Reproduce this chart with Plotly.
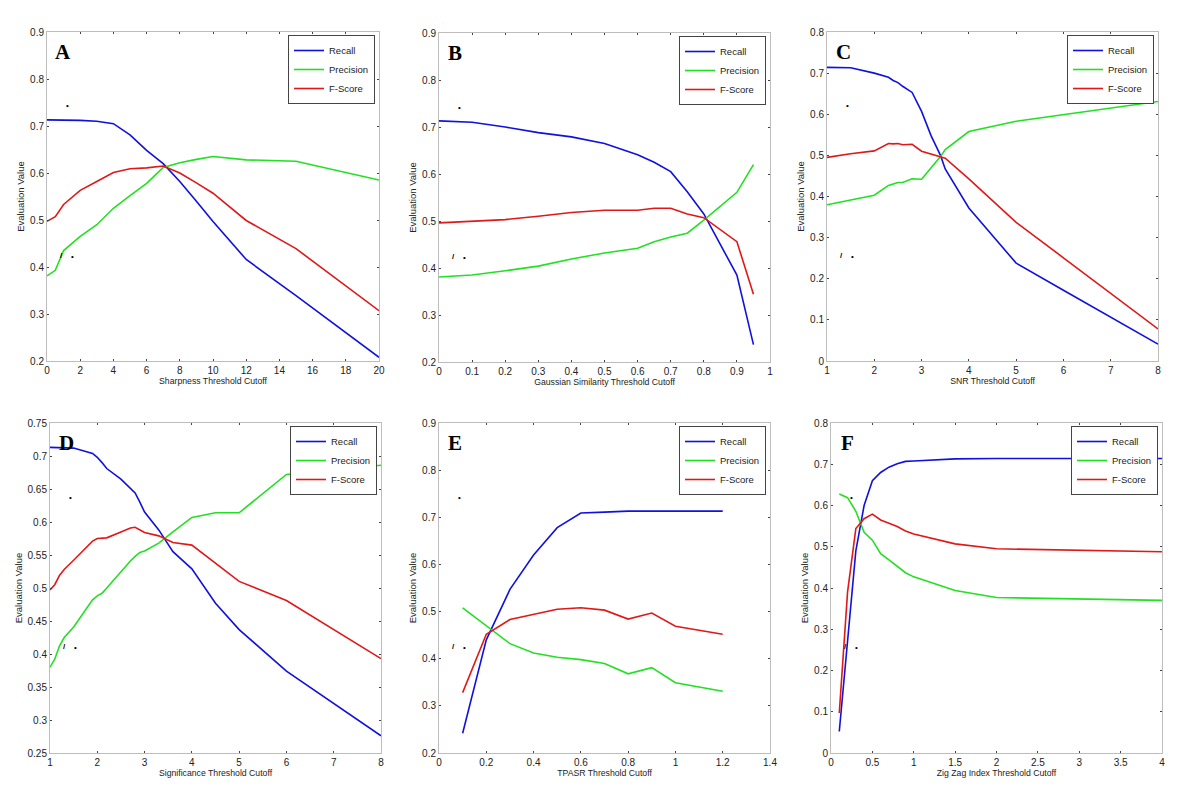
import plotly.graph_objects as go

# ---------------- data ----------------
A_x = [0, 0.5, 1, 2, 3, 4, 5, 6, 7, 8, 9, 10, 12, 15, 20]
A_recall = [0.713, 0.713, 0.713, 0.712, 0.710, 0.705, 0.681, 0.648, 0.620, 0.582, 0.540, 0.497, 0.416, 0.339, 0.208]
A_precision = [0.381, 0.393, 0.435, 0.465, 0.490, 0.525, 0.552, 0.578, 0.612, 0.622, 0.629, 0.635, 0.628, 0.625, 0.585]
A_fscore = [0.497, 0.507, 0.533, 0.563, 0.582, 0.601, 0.609, 0.611, 0.615, 0.600, 0.579, 0.557, 0.499, 0.439, 0.307]

B_x = [0, 0.1, 0.2, 0.3, 0.4, 0.5, 0.6, 0.65, 0.7, 0.75, 0.8, 0.9, 0.95]
B_recall = [0.713, 0.710, 0.700, 0.688, 0.679, 0.665, 0.641, 0.625, 0.605, 0.562, 0.515, 0.385, 0.237]
B_precision = [0.381, 0.385, 0.394, 0.404, 0.419, 0.432, 0.442, 0.456, 0.466, 0.474, 0.502, 0.561, 0.620]
B_fscore = [0.496, 0.499, 0.503, 0.510, 0.518, 0.523, 0.523, 0.527, 0.527, 0.515, 0.507, 0.456, 0.344]

C_x = [1, 1.5, 2, 2.3, 2.4, 2.5, 2.6, 2.8, 3, 3.2, 3.4, 3.5, 4, 5, 6, 7, 8]
C_recall = [0.714, 0.713, 0.700, 0.690, 0.682, 0.677, 0.668, 0.653, 0.607, 0.548, 0.500, 0.467, 0.372, 0.238, 0.172, 0.106, 0.041]
C_precision = [0.380, 0.391, 0.403, 0.427, 0.431, 0.434, 0.434, 0.443, 0.442, 0.470, 0.497, 0.514, 0.558, 0.583, 0.599, 0.615, 0.631]
C_fscore = [0.495, 0.504, 0.511, 0.529, 0.528, 0.529, 0.526, 0.527, 0.510, 0.503, 0.496, 0.493, 0.443, 0.337, 0.251, 0.165, 0.078]

D_x = [1, 1.1, 1.2, 1.3, 1.5, 1.9, 2, 2.1, 2.2, 2.5, 2.7, 2.8, 2.9, 3, 3.3, 3.6, 4, 4.5, 5, 6, 8]
D_recall = [0.713, 0.713, 0.713, 0.713, 0.712, 0.704, 0.698, 0.690, 0.681, 0.665, 0.652, 0.644, 0.630, 0.615, 0.588, 0.555, 0.529, 0.477, 0.437, 0.374, 0.276]
D_precision = [0.380, 0.392, 0.412, 0.425, 0.441, 0.482, 0.488, 0.492, 0.500, 0.525, 0.541, 0.548, 0.554, 0.556, 0.568, 0.585, 0.607, 0.614, 0.614, 0.672, 0.686]
D_fscore = [0.497, 0.505, 0.519, 0.528, 0.542, 0.571, 0.575, 0.575, 0.576, 0.585, 0.591, 0.592, 0.588, 0.584, 0.579, 0.569, 0.565, 0.538, 0.510, 0.481, 0.393]

E_x = [0.1, 0.2, 0.3, 0.4, 0.5, 0.6, 0.7, 0.8, 0.9, 1.0, 1.2]
E_recall = [0.242, 0.440, 0.547, 0.620, 0.678, 0.709, 0.711, 0.713, 0.713, 0.713, 0.713]
E_precision = [0.508, 0.470, 0.432, 0.412, 0.403, 0.398, 0.390, 0.368, 0.381, 0.349, 0.331]
E_fscore = [0.328, 0.452, 0.483, 0.494, 0.505, 0.508, 0.503, 0.484, 0.497, 0.469, 0.452]

F_x = [0.1, 0.2, 0.3, 0.4, 0.5, 0.6, 0.7, 0.8, 0.9, 1.0, 1.5, 2, 4]
F_recall = [0.052, 0.270, 0.490, 0.600, 0.660, 0.680, 0.693, 0.701, 0.707, 0.708, 0.713, 0.714, 0.714]
F_precision = [0.628, 0.619, 0.586, 0.535, 0.516, 0.483, 0.468, 0.453, 0.437, 0.427, 0.394, 0.377, 0.370]
F_fscore = [0.097, 0.390, 0.544, 0.568, 0.579, 0.565, 0.557, 0.549, 0.538, 0.531, 0.507, 0.495, 0.488]

series_names = ["Recall", "Precision", "F-Score"]
panel_letters = ["A", "B", "C", "D", "E", "F"]
x_titles = ["Sharpness Threshold Cutoff", "Gaussian Similarity Threshold Cutoff", "SNR Threshold Cutoff",
            "Significance Threshold Cutoff", "TPASR Threshold Cutoff", "Zig Zag Index Threshold Cutoff"]
y_title = "Evaluation Value"

panels_data = [
    (A_x, A_recall, A_precision, A_fscore),
    (B_x, B_recall, B_precision, B_fscore),
    (C_x, C_recall, C_precision, C_fscore),
    (D_x, D_recall, D_precision, D_fscore),
    (E_x, E_recall, E_precision, E_fscore),
    (F_x, F_recall, F_precision, F_fscore),
]

# ---------------- layout / style ----------------
W, H = 1200, 792
OFF = 8  # page body margin of the browser
colors = ["#1010e0", "#22e022", "#e01818"]
# target plot-area pixel boxes on screen (left, right, top, bottom)
boxes = [(47, 379, 32, 361), (439, 770, 33, 362), (827, 1158, 32, 361),
         (50, 381, 423, 753), (439, 770, 423, 753), (831, 1162, 423, 753)]
x_ranges = [(0, 20), (0, 1), (1, 8), (1, 8), (0, 1.4), (0, 4)]
x_dticks = [2, 0.1, 1, 1, 0.2, 0.5]
y_ranges = [(0.2, 0.9), (0.2, 0.9), (0, 0.8), (0.25, 0.75), (0.2, 0.9), (0, 0.8)]
y_dticks = [0.1, 0.1, 0.1, 0.05, 0.1, 0.1]


def px(v):
    return (v - OFF) / W


def py(v):
    return 1 - (v - OFF) / H


fig = go.Figure()
font_family = "Liberation Sans, Arial, Helvetica, sans-serif"
layout = dict(
    template="none",
    width=W, height=H, paper_bgcolor="white", plot_bgcolor="white",
    margin=dict(l=0, r=0, t=0, b=0, pad=0, autoexpand=False), showlegend=True,
    font=dict(family=font_family, color="#222", size=10),
)
annotations = []

for i, (data, box) in enumerate(zip(panels_data, boxes)):
    sfx = "" if i == 0 else str(i + 1)
    xs = data[0]
    legend_name = "legend" + sfx
    for name, ys, col in zip(series_names, data[1:], colors):
        fig.add_trace(go.Scatter(
            x=xs, y=ys, mode="lines", name=name,
            line=dict(color=col, width=1.6),
            xaxis="x" + sfx, yaxis="y" + sfx, legend=legend_name,
        ))
    l, r, t, b = box
    common = dict(showline=True, linecolor="#bdbdbd", linewidth=1, mirror="ticks",
                  ticks="inside", ticklen=2, tickwidth=1, tickcolor="#444",
                  showgrid=False, zeroline=False, automargin=False,
                  tickfont=dict(size=10, family=font_family, color="#222"))
    layout["xaxis" + sfx] = dict(
        domain=[px(l), px(r)], anchor="y" + sfx,
        range=list(x_ranges[i]), dtick=x_dticks[i], tick0=0,
        title=dict(text=x_titles[i], font=dict(size=8.7, family=font_family, color="#222"), standoff=2),
        **common)
    layout["yaxis" + sfx] = dict(
        domain=[py(b), py(t)], anchor="x" + sfx,
        range=list(y_ranges[i]), dtick=y_dticks[i], tick0=0,
        title=dict(text=y_title, font=dict(size=9.5, family=font_family, color="#222"), standoff=3),
        **common)
    layout[legend_name] = dict(
        x=px(r - 4), y=py(t + 3), xanchor="right", yanchor="top",
        bgcolor="white", bordercolor="#444", borderwidth=1,
        font=dict(size=9.5, family=font_family, color="#222"),
        itemwidth=30, tracegroupgap=0,
    )
    # panel letter
    annotations.append(dict(
        text="<b>" + panel_letters[i] + "</b>", xref="paper", yref="paper",
        x=px(l + 16), y=py(t + 20), xanchor="center", yanchor="middle",
        showarrow=False, font=dict(size=21, family="Liberation Serif, Times New Roman, serif", color="black"),
    ))
    # small stray marks present in the original figure
    for dx, dy, txt, sz in [(20, 74, "•", 8), (14, 223, "<b>/</b>", 8), (25, 224, "•", 8)]:
        annotations.append(dict(
            text=txt, xref="paper", yref="paper", x=px(l + dx), y=py(t + dy),
            xanchor="center", yanchor="middle", showarrow=False,
            font=dict(size=sz, color="black", family=font_family),
        ))

layout["annotations"] = annotations
fig.update_layout(**layout)
fig.write_html("out.html")
